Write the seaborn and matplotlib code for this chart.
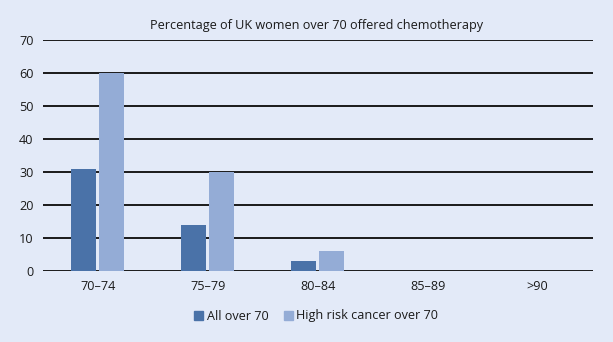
import matplotlib
matplotlib.use("Agg")
import matplotlib.pyplot as plt
import seaborn as sns
import pandas as pd

age_groups = ["70–74", "75–79", "80–84", "85–89", ">90"]
all_over_70 = [31, 14, 3, 0, 0]
high_risk_over_70 = [60, 30, 6, 0, 0]
series_names = ["All over 70", "High risk cancer over 70"]
y_ticks = [0, 10, 20, 30, 40, 50, 60, 70]

bg = "#e3eaf8"
colors = ["#4a72a8", "#94acd6"]
text_color = "#1a1a1a"
fs = 9.1

sns.set_theme(style="white")
plt.rcParams["font.family"] = ["Open Sans", "DejaVu Sans"]

df = pd.DataFrame({
    "age": age_groups * 2,
    "pct": all_over_70 + high_risk_over_70,
    "series": [series_names[0]] * len(age_groups) + [series_names[1]] * len(age_groups),
})

fig = plt.figure(figsize=(6.13, 3.42), dpi=100, facecolor=bg)
ax = fig.add_axes([0.0697, 0.2085, 0.897, 0.6745])
ax.set_facecolor(bg)

sns.barplot(data=df, x="age", y="pct", hue="series", palette=colors,
            width=0.51, gap=0.1, ax=ax, legend=False, linewidth=0, saturation=1)

ax.set_ylim(0, 70)
ax.set_yticks(y_ticks)
ax.set_xlim(-0.5, len(age_groups) - 0.5)
ax.yaxis.grid(True, color=text_color, linewidth=1.4)
ax.set_axisbelow(True)
for s in ax.spines.values():
    s.set_visible(False)
ax.tick_params(axis="both", length=0, labelsize=fs, colors=text_color)
ax.tick_params(axis="y", pad=6.5)
ax.tick_params(axis="x", pad=7)
ax.set_xlabel("")
ax.set_ylabel("")

fig.text(0.517, 1 - 25 / 342, "Percentage of UK women over 70 offered chemotherapy",
         ha="center", va="center", fontsize=fs, color=text_color)

handles = [plt.Rectangle((0, 0), 1, 1, color=c) for c in colors]
fig.legend(handles, series_names, loc="center", bbox_to_anchor=(0.516, 1 - 316 / 342),
           ncol=2, frameon=False, fontsize=fs, handlelength=0.7, handleheight=0.7,
           handletextpad=0.3, columnspacing=1.2, labelcolor=text_color)

fig.savefig("out.png", dpi=100, facecolor=bg)
